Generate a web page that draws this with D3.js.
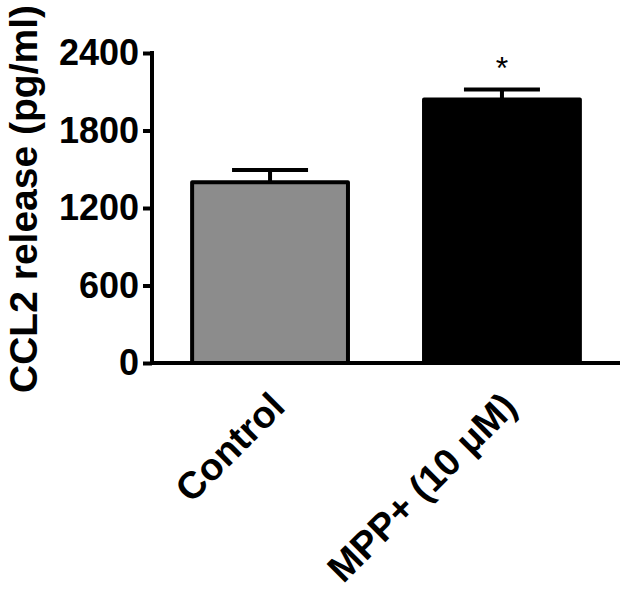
<!DOCTYPE html>
<html>
<head>
<meta charset="utf-8">
<script src="https://cdn.jsdelivr.net/npm/d3@7"></script>
<style>
  body { margin: 0; background: #fff; }
  text { font-family: "Liberation Sans", Arial, sans-serif; font-weight: bold; }
</style>
</head>
<body>
<script>
// data
let groups = ["Control", "MPP+ (10 \u03bcM)"];
let means = [1400, 2040];
let sems = [95, 78];
let marks = ["", "*"];
let yTicks = [0, 600, 1200, 1800, 2400];

// colors
let colorGray = "#8c8c8c";
let colorBlack = "#000";

let width = 629, height = 591;
let svg = d3.select("body").append("svg")
    .attr("width", width)
    .attr("height", height);

let x = d3.scaleBand()
    .domain(groups)
    .range([152, 620])
    .paddingInner(0.328)
    .paddingOuter(0.173);

let y = d3.scaleLinear()
    .domain([0, 2400])
    .range([363, 53]);

// bars
svg.selectAll(".bar")
    .data(groups)
    .enter()
    .append("rect")
    .attr("class", "bar")
    .attr("x", d => x(d))
    .attr("y", (d, i) => y(means[i]))
    .attr("width", x.bandwidth())
    .attr("height", (d, i) => y(0) - y(means[i]))
    .style("fill", (d, i) => i == 0 ? colorGray : colorBlack)
    .style("stroke", colorBlack)
    .style("stroke-width", 4)
    .style("stroke-linejoin", "round");

// error bars (upper only)
let capHalf = 38;
svg.selectAll(".err")
    .data(groups)
    .enter()
    .append("path")
    .attr("class", "err")
    .attr("d", (d, i) => {
        let cx = x(d) + x.bandwidth() / 2;
        let top = y(means[i] + sems[i]);
        return "M" + cx + "," + y(means[i]) + "V" + top +
            "M" + (cx - capHalf) + "," + top + "H" + (cx + capHalf);
    })
    .style("stroke", colorBlack)
    .style("stroke-width", 4)
    .style("fill", "none");

// significance marks
svg.selectAll(".sig")
    .data(groups)
    .enter()
    .append("text")
    .attr("class", "sig")
    .attr("x", d => x(d) + x.bandwidth() / 2)
    .attr("y", (d, i) => y(means[i] + sems[i]) - 10)
    .attr("text-anchor", "middle")
    .style("font-size", "32px")
    .style("font-weight", "normal")
    .text((d, i) => marks[i]);

// y axis
let yAxis = svg.append("g")
    .attr("transform", "translate(152,0)")
    .call(d3.axisLeft(y).tickValues(yTicks).tickFormat(d3.format("d"))
        .tickSize(9).tickPadding(4).tickSizeOuter(0));
yAxis.select(".domain").attr("stroke-width", 4).attr("d", "M0," + (y(2400) - 2) + "V" + (y(0) + 2));
yAxis.selectAll(".tick line").attr("stroke-width", 4);
yAxis.selectAll(".tick text")
    .style("font-size", "36px")
    .style("font-family", "'Liberation Sans', Arial, sans-serif")
    .style("font-weight", "bold")
    .attr("fill", "#000");

// x axis baseline
svg.append("line")
    .attr("x1", 150).attr("x2", 620)
    .attr("y1", y(0)).attr("y2", y(0))
    .style("stroke", colorBlack)
    .style("stroke-width", 4);

// category labels
svg.selectAll(".xlab")
    .data(groups)
    .enter()
    .append("text")
    .attr("class", "xlab")
    .attr("transform", d => "translate(" + (x(d) + x.bandwidth() / 2 - 2) + ",390) rotate(-45)")
    .attr("text-anchor", "end")
    .attr("dy", "0.7em")
    .style("font-size", "38px")
    .text(d => d);

// y axis title
svg.append("text")
    .attr("transform", "translate(37,199) rotate(-90)")
    .attr("text-anchor", "middle")
    .style("font-size", "39px")
    .text("CCL2 release (pg/ml)");
</script>
</body>
</html>
